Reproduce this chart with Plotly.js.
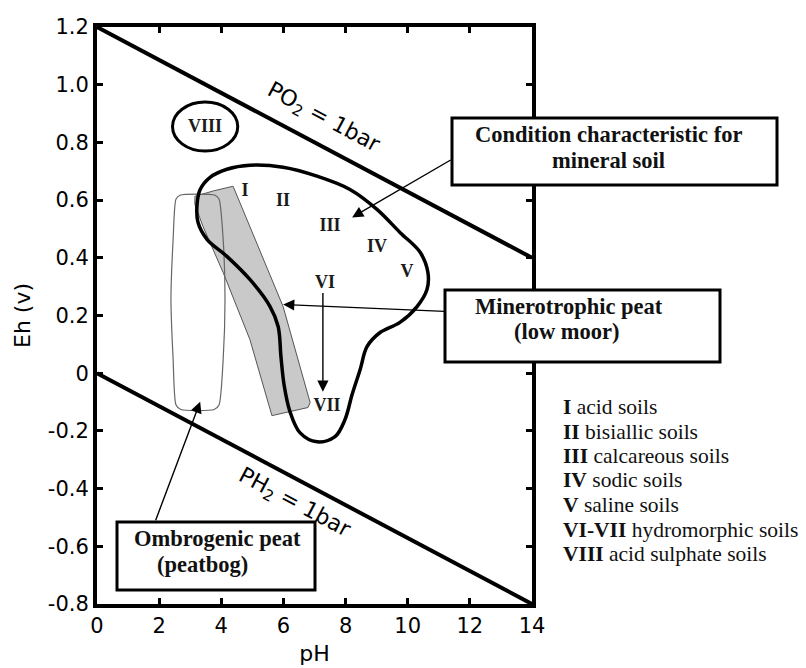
<!DOCTYPE html>
<html>
<head>
<meta charset="utf-8">
<script src="https://cdn.plot.ly/plotly-3.0.1.min.js"></script>
<style>html,body{margin:0;padding:0;background:#fff;}#chart{width:806px;height:668px;}</style>
</head>
<body>
<div id="chart"></div>
<script>
// ---- data ----
const phLimits = [0, 14];
const ehOxygen = [1.2, 0.4];      // PO2 = 1 bar
const ehHydrogen = [0, -0.8];     // PH2 = 1 bar

const xTickVals = [0, 2, 4, 6, 8, 10, 12, 14];
const xTickText = ['0', '2', '4', '6', '8', '10', '12', '14'];
const yTickVals = [1.2, 1.0, 0.8, 0.6, 0.4, 0.2, 0, -0.2, -0.4, -0.6, -0.8];
const yTickText = ['1.2', '1.0', '0.8', '0.6', '0.4', '0.2', '0', '-0.2', '-0.4', '-0.6', '-0.8'];

// mineral soil condition envelope
const mineralPH = [3.32, 3.64, 4.18, 4.92, 5.99, 7.08, 8.14, 9.01, 9.75, 10.40, 10.65, 10.62, 10.30, 9.75, 9.11, 8.69, 8.47, 8.21, 7.98, 7.66, 7.08, 6.53, 6.21, 6.02, 5.92, 5.83, 5.57, 4.92, 4.18, 3.54, 3.25, 3.22, 3.32];
const mineralEh = [0.637, 0.679, 0.707, 0.721, 0.714, 0.683, 0.637, 0.568, 0.488, 0.419, 0.349, 0.290, 0.231, 0.176, 0.141, 0.092, 0.013, -0.074, -0.161, -0.220, -0.238, -0.206, -0.133, -0.040, 0.058, 0.162, 0.231, 0.325, 0.405, 0.464, 0.523, 0.585, 0.637];

// minerotrophic peat band (grey)
const minerotrophicPH = [3.15, 3.75, 4.38, 4.92, 5.99, 6.86, 6.79, 5.63, 4.92, 4.06, 3.41, 3.15, 3.15];
const minerotrophicEh = [0.613, 0.632, 0.648, 0.509, 0.231, -0.102, -0.119, -0.147, 0.117, 0.349, 0.509, 0.585, 0.613];

// ombrogenic peat region
const ombrogenicPH = [2.67, 3.80, 3.93, 4.06, 4.12, 4.06, 3.93, 3.77, 2.70, 2.54, 2.45, 2.38, 2.45, 2.54, 2.67];
const ombrogenicEh = [0.617, 0.617, 0.603, 0.464, 0.256, 0.047, -0.109, -0.126, -0.126, -0.109, 0.047, 0.256, 0.464, 0.603, 0.617];

// acid sulphate soils ellipse (pH min, pH max, Eh min, Eh max)
const acidSulphateBox = [2.43, 4.53, 0.77, 0.94];

// zone numerals
const zoneLabels = ['I', 'II', 'III', 'IV', 'V', 'VI', 'VII', 'VIII'];
const zonePH = [4.76, 5.99, 7.50, 9.01, 9.98, 7.34, 7.40, 3.48];
const zoneEh = [0.631, 0.596, 0.509, 0.436, 0.349, 0.311, -0.116, 0.853];

// arrows: tail -> head
const arrowTailPH = [11.43, 11.23, 7.27, 1.87];
const arrowTailEh = [0.742, 0.214, 0.283, -0.515];
const arrowHeadPH = [8.21, 5.99, 7.27, 3.32];
const arrowHeadEh = [0.540, 0.238, -0.064, -0.099];

// legend list
const legendNumerals = ['I', 'II', 'III', 'IV', 'V', 'VI-VII', 'VIII'];
const legendNames = ['acid soils', 'bisiallic soils', 'calcareous soils', 'sodic soils', 'saline soils', 'hydromorphic soils', 'acid sulphate soils'];

// ---- figure ----
const sans = 'DejaVu Sans, Liberation Sans, Arial, sans-serif';
const serif = 'Liberation Serif, Times New Roman, serif';

const traces = [
  { x: minerotrophicPH, y: minerotrophicEh, mode: 'lines', fill: 'toself', fillcolor: '#c9c9c9',
    line: { color: '#555', width: 1 }, hoverinfo: 'skip', showlegend: false },
  { x: ombrogenicPH, y: ombrogenicEh, mode: 'lines', line: { color: '#666', width: 1.2, shape: 'spline', smoothing: 0.6 },
    hoverinfo: 'skip', showlegend: false },
  { x: mineralPH, y: mineralEh, mode: 'lines', line: { color: '#000', width: 3.5, shape: 'spline', smoothing: 1 },
    hoverinfo: 'skip', showlegend: false },
  { x: phLimits, y: ehOxygen, mode: 'lines', line: { color: '#000', width: 4 }, hoverinfo: 'skip', showlegend: false },
  { x: phLimits, y: ehHydrogen, mode: 'lines', line: { color: '#000', width: 4 }, hoverinfo: 'skip', showlegend: false },
  { x: zonePH, y: zoneEh, mode: 'text', text: zoneLabels,
    textfont: { family: serif, size: 18, color: '#1a1a1a', weight: 'bold' }, hoverinfo: 'skip', showlegend: false, cliponaxis: false }
];

// pixel helpers for paper positions (plot area: 97..532 x, 27..604 y)
const L = 97, R = 532, T = 27, B = 604;
const px = v => (v - L) / (R - L);
const py = v => (B - v) / (B - T);

const annotations = [];
for (let i = 0; i < arrowTailPH.length; i++) {
  annotations.push({ x: arrowHeadPH[i], y: arrowHeadEh[i], ax: arrowTailPH[i], ay: arrowTailEh[i],
    xref: 'x', yref: 'y', axref: 'x', ayref: 'y', text: '', showarrow: true,
    arrowhead: 2, arrowsize: 1.6, arrowwidth: 1.4, arrowcolor: '#000' });
}
const boxText = (t, x, y) => ({ text: t, xref: 'paper', yref: 'paper', x: px(x), y: py(y),
  xanchor: 'center', yanchor: 'middle', showarrow: false,
  font: { family: serif, size: 22.5, color: '#111', weight: 'bold' } });
annotations.push(boxText('Condition characteristic for', 608, 134));
annotations.push(boxText('mineral soil', 608, 160));
annotations.push(boxText('Minerotrophic peat', 569, 306));
annotations.push(boxText('(low moor)', 567, 331));
annotations.push(boxText('Ombrogenic peat', 217, 538));
annotations.push(boxText('(peatbog)', 202, 564));

annotations.push({ text: 'PO<sub>2</sub> = 1bar', xref: 'paper', yref: 'paper', x: px(323), y: py(119),
  xanchor: 'center', yanchor: 'middle',
  textangle: 28, showarrow: false, font: { family: sans, size: 22, color: '#000' } });
annotations.push({ text: 'PH<sub>2</sub> = 1bar', xref: 'paper', yref: 'paper', x: px(294), y: py(503),
  xanchor: 'center', yanchor: 'middle',
  textangle: 28, showarrow: false, font: { family: sans, size: 22, color: '#000' } });

const legendY = [407, 432, 456, 480, 505, 530, 554];
for (let i = 0; i < legendNumerals.length; i++) {
  annotations.push({ text: '<b>' + legendNumerals[i] + '</b> ' + legendNames[i], xref: 'paper', yref: 'paper',
    x: px(561), y: py(legendY[i]), xanchor: 'left', yanchor: 'middle', showarrow: false,
    font: { family: serif, size: 21.5, color: '#111' } });
}

const boxRect = (x0, x1, y0, y1) => ({ type: 'rect', xref: 'paper', yref: 'paper',
  x0: px(x0), x1: px(x1), y0: py(y0), y1: py(y1), line: { color: '#000', width: 3 }, fillcolor: '#fff', layer: 'above' });

const layout = {
  width: 806, height: 668,
  margin: { l: L, r: 806 - R, t: T, b: 668 - B },
  paper_bgcolor: '#fff', plot_bgcolor: '#fff',
  showlegend: false,
  xaxis: { range: [0, 14], tickvals: xTickVals, ticktext: xTickText, showgrid: false, zeroline: false,
    showline: true, linecolor: '#000', linewidth: 4, mirror: 'ticks', ticks: 'inside', ticklen: 6, tickwidth: 3, tickcolor: '#000',
    tickfont: { family: sans, size: 21, color: '#000' },
    title: { text: 'pH', font: { family: sans, size: 22, color: '#000' }, standoff: 9 } },
  yaxis: { range: [-0.8, 1.2], tickvals: yTickVals, ticktext: yTickText, showgrid: false, zeroline: false,
    showline: true, linecolor: '#000', linewidth: 4, mirror: 'ticks', ticks: 'inside', ticklen: 6, tickwidth: 3, tickcolor: '#000',
    tickfont: { family: sans, size: 21, color: '#000' },
    title: { text: 'Eh (v)', font: { family: sans, size: 22, color: '#000' }, standoff: 12 } },
  shapes: [
    { type: 'circle', xref: 'x', yref: 'y', x0: acidSulphateBox[0], x1: acidSulphateBox[1], y0: acidSulphateBox[2], y1: acidSulphateBox[3],
      line: { color: '#000', width: 3 } },
    boxRect(452, 777, 118, 185),
    boxRect(445, 720, 290, 362),
    boxRect(117, 315, 522, 590)
  ],
  annotations: annotations
};

Plotly.newPlot('chart', traces, layout, { displayModeBar: false, staticPlot: true });
</script>
</body>
</html>
